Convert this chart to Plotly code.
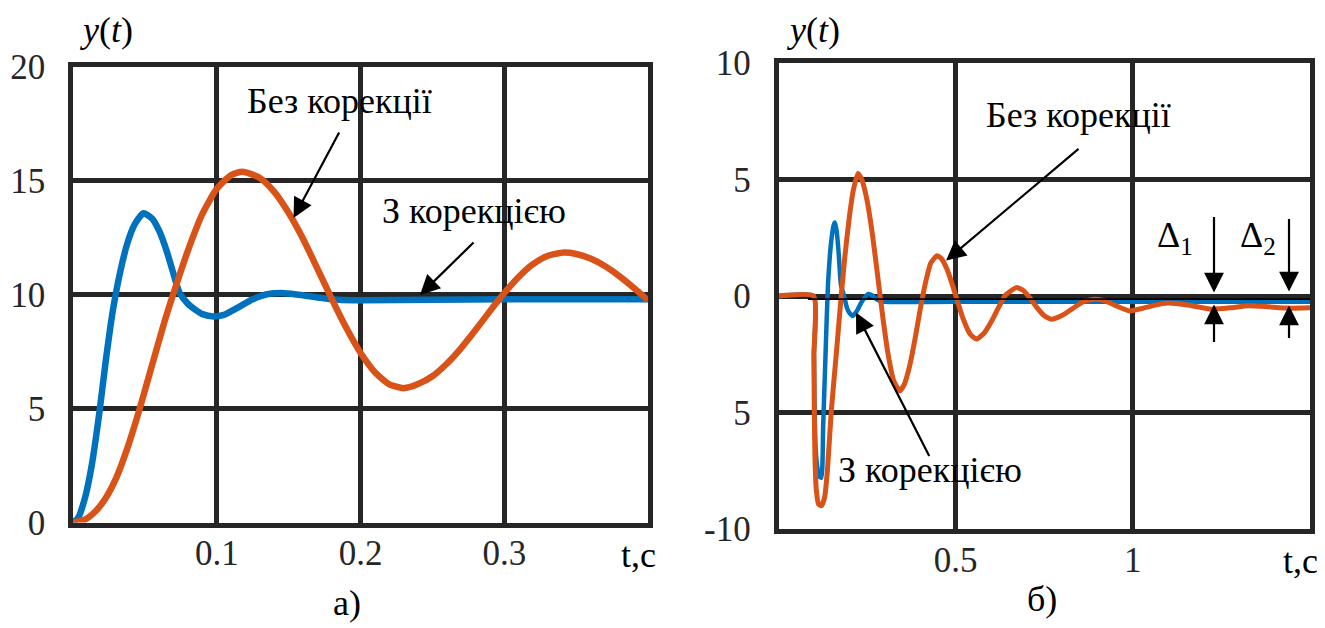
import plotly.graph_objects as go

# ---------------- data: panel a) ----------------
t_a_corr = [0, 0.0035, 0.008, 0.013, 0.0185, 0.023, 0.0277, 0.033, 0.038, 0.043, 0.049,
            0.055, 0.06, 0.065, 0.07, 0.074, 0.08, 0.085, 0.09, 0.098, 0.105, 0.115,
            0.125, 0.135, 0.147, 0.16, 0.17, 0.185, 0.2, 0.25, 0.3, 0.35, 0.4]
y_a_corr = [0, 0.2, 1.0, 2.5, 4.9, 7.2, 9.3, 11.05, 12.3, 13.1, 13.58,
            13.35, 12.8, 11.95, 10.9, 10.1, 9.6, 9.35, 9.15, 9.05, 9.12, 9.45,
            9.8, 10.02, 10.07, 9.98, 9.88, 9.78, 9.76, 9.78, 9.8, 9.8, 9.8]

t_a_nocorr = [0, 0.008, 0.015, 0.022, 0.03, 0.038, 0.0464, 0.0545, 0.0638, 0.0696, 0.08, 0.09,
              0.1, 0.11, 0.118, 0.13, 0.14, 0.15, 0.16, 0.17, 0.18, 0.19, 0.2, 0.21,
              0.22, 0.23, 0.24, 0.25, 0.26, 0.27, 0.28, 0.29, 0.3, 0.31, 0.32, 0.33,
              0.3415, 0.35, 0.36, 0.37, 0.38, 0.39, 0.4]
y_a_nocorr = [0, 0.12, 0.45, 1.0, 1.95, 3.3, 5.0, 6.8, 8.85, 10.0, 11.95, 13.55,
              14.65, 15.25, 15.4, 15.13, 14.52, 13.6, 12.46, 11.15, 9.82, 8.56, 7.45, 6.6,
              6.07, 5.9, 6.08, 6.42, 6.97, 7.66, 8.45, 9.28, 10.07, 10.78, 11.34, 11.7,
              11.85, 11.79, 11.59, 11.26, 10.82, 10.31, 9.76]

# ---------------- data: panel б) ----------------
t_b_corr = [0, 0.099, 0.1, 0.102, 0.105, 0.11, 0.115, 0.121, 0.126, 0.131, 0.136, 0.14,
            0.145, 0.15, 0.155, 0.159, 0.164, 0.17, 0.176, 0.185, 0.193, 0.2, 0.21,
            0.222, 0.235, 0.2526, 0.265, 0.278, 0.295, 0.33, 0.5, 0.8, 1.1, 1.5]
y_b_corr = [0, 0, -2.5, -5.0, -6.6, -7.4, -7.75, -7.8, -5.6, -3.3, -1.0, 0.6,
            1.75, 2.5, 3.0, 3.15, 2.8, 1.8, 0.5, 0.0, -0.5, -0.72, -0.85,
            -0.62, -0.25, 0.08, 0.02, -0.15, -0.24, -0.26, -0.25, -0.25, -0.25, -0.25]

t_b_nocorr = [0, 0.099, 0.1, 0.101, 0.103, 0.107, 0.113, 0.121, 0.13, 0.138, 0.149, 0.163,
              0.177, 0.187, 0.2, 0.212, 0.2244, 0.235, 0.25, 0.265, 0.28, 0.295, 0.31,
              0.325, 0.342, 0.355, 0.37, 0.385, 0.4, 0.415, 0.43, 0.4474, 0.46, 0.475,
              0.49, 0.505, 0.52, 0.54, 0.5583, 0.58, 0.6, 0.62, 0.64, 0.671, 0.69, 0.71,
              0.73, 0.75, 0.77, 0.8, 0.83, 0.86, 0.8925, 0.92, 0.95, 0.991, 1.03, 1.06,
              1.099, 1.16, 1.2216, 1.28, 1.325, 1.38, 1.438, 1.5]
y_b_nocorr = [0, 0, -2.5, -5.0, -7.0, -8.36, -8.94, -9.0, -8.65, -7.5, -4.93, -2.5,
              0, 1.65, 3.4, 4.6, 5.26, 5.0, 4.1, 2.65, 0.85, -0.98, -2.56,
              -3.63, -4.07, -3.79, -3.01, -1.87, -0.57, 0.58, 1.42, 1.73, 1.6, 1.17,
              0.52, -0.22, -0.93, -1.62, -1.85, -1.6, -1.12, -0.52, 0.03, 0.36, 0.25, -0.09,
              -0.51, -0.85, -1.0, -0.84, -0.54, -0.24, -0.14, -0.2, -0.4, -0.64, -0.52, -0.4,
              -0.3, -0.4, -0.57, -0.5, -0.42, -0.46, -0.52, -0.5]

t_b_ref = [0.083, 1.5]
y_b_ref = [-0.13, -0.13]

# tick labels
a_xticks = [0.1, 0.2, 0.3]
a_xticktext = ["0.1", "0.2", "0.3"]
a_yticks = [0, 5, 10, 15, 20]
a_yticktext = ["0", "5", "10", "15", "20"]
b_xticks = [0.5, 1.0]
b_xticktext = ["0.5", "1"]
b_yticks = [-10, -5, 0, 5, 10]
b_yticktext = ["-10", "5", "0", "5", "10"]

BLUE = "#0072BD"
ORANGE = "#D95319"
GRID = "#262626"
FONT = "'Liberation Serif', Tinos, 'Times New Roman', 'DejaVu Serif', serif"
FS = 35

fig = go.Figure()

fig.add_trace(go.Scatter(x=t_a_corr, y=y_a_corr, mode="lines", xaxis="x", yaxis="y",
                         line=dict(color=BLUE, width=6.5, shape="spline", smoothing=0.6),
                         showlegend=False, hoverinfo="skip"))
fig.add_trace(go.Scatter(x=t_a_nocorr, y=y_a_nocorr, mode="lines", xaxis="x", yaxis="y",
                         line=dict(color=ORANGE, width=6.5, shape="spline", smoothing=0.6),
                         showlegend=False, hoverinfo="skip"))
fig.add_trace(go.Scatter(x=t_b_corr, y=y_b_corr, mode="lines", xaxis="x2", yaxis="y2",
                         line=dict(color=BLUE, width=4.5, shape="spline", smoothing=0.5),
                         showlegend=False, hoverinfo="skip"))
fig.add_trace(go.Scatter(x=t_b_nocorr, y=y_b_nocorr, mode="lines", xaxis="x2", yaxis="y2",
                         line=dict(color=ORANGE, width=5, shape="spline", smoothing=0.5),
                         showlegend=False, hoverinfo="skip"))
fig.add_trace(go.Scatter(x=t_b_ref, y=y_b_ref, mode="lines", xaxis="x2", yaxis="y2",
                         line=dict(color="black", width=1.8),
                         showlegend=False, hoverinfo="skip"))

axis_common = dict(showline=True, linewidth=4.5, linecolor=GRID, mirror=True,
                   showgrid=True, gridwidth=4.5, gridcolor=GRID, zeroline=False,
                   ticks="", automargin=False,
                   tickfont=dict(family=FONT, size=FS, color="#262626"),
                   fixedrange=True)

W, H = 1325, 628
fig.update_layout(
    template="none",
    width=W, height=H,
    margin=dict(l=0, r=0, t=0, b=0, autoexpand=False),
    paper_bgcolor="white", plot_bgcolor="white",
    font=dict(family=FONT, size=FS, color="black"),
    showlegend=False,
    xaxis=dict(domain=[65 / W, 640 / W], range=[0, 0.4], tickmode="array",
               tickvals=a_xticks, ticktext=a_xticktext, anchor="y",
               ticklabelstandoff=-4, **axis_common),
    yaxis=dict(domain=[1 - 514.5 / H, 1 - 59 / H], range=[0, 20], tickmode="array",
               tickvals=a_yticks, ticktext=a_yticktext, anchor="x",
               ticklabelstandoff=16, **axis_common),
    xaxis2=dict(domain=[770.5 / W, 1302 / W], range=[0, 1.5], tickmode="array",
                tickvals=b_xticks, ticktext=b_xticktext, anchor="y2",
                ticklabelstandoff=-4, **axis_common),
    yaxis2=dict(domain=[1 - 521 / H, 1 - 55 / H], range=[-10, 10], tickmode="array",
                tickvals=b_yticks, ticktext=b_yticktext, anchor="x2",
                ticklabelstandoff=16, **axis_common),
)

ann = []
TXT = dict(family=FONT, size=FS + 1, color="black")
YS = 10

def label(text, x, y, xref, yref, **kw):
    d = dict(text=text, x=x, y=y, xref=xref, yref=yref, showarrow=False,
             font=TXT, xanchor="center", yanchor="middle", yshift=YS)
    d.update(kw)
    ann.append(d)

def arrow(xt, yt, xh, yh, xref, yref):
    ann.append(dict(text="", x=xh, y=yh, ax=xt, ay=yt, xref=xref, yref=yref,
                    axref=xref, ayref=yref, showarrow=True, arrowhead=2,
                    arrowsize=1.8, arrowwidth=2.2, arrowcolor="black", standoff=0))

# panel a)
label("Без корекції", 0.1854, 18.07, "x", "y")
arrow(0.1857, 17.19, 0.1534, 13.37, "x", "y")
label("З корекцією", 0.279, 13.24, "x", "y")
arrow(0.2797, 12.36, 0.2414, 9.99, "x", "y")

# panel б)
label("Без корекції", 0.848, 7.32, "x2", "y2")
arrow(0.851, 6.37, 0.4728, 1.52, "x2", "y2")
label("З корекцією", 0.4276, -7.88, "x2", "y2")
arrow(0.4276, -6.93, 0.2187, -0.71, "x2", "y2")
label("Δ<sub>1</sub>", 1.1193, 2.08, "x2", "y2")
label("Δ<sub>2</sub>", 1.3536, 2.08, "x2", "y2")
arrow(1.2291, 3.45, 1.2291, 0.15, "x2", "y2")
arrow(1.2291, -2.04, 1.2291, -0.36, "x2", "y2")
arrow(1.4408, 3.37, 1.4408, 0.19, "x2", "y2")
arrow(1.4408, -1.87, 1.4408, -0.41, "x2", "y2")

# axis titles and panel captions (paper coords)
label("<i>y</i>(<i>t</i>)", 98.5 / W, 1.0, "paper", "paper",
      yshift=0, yanchor="top")
label("<i>y</i>(<i>t</i>)", 806 / W, 1.0, "paper", "paper",
      yshift=0, yanchor="top")
label("t,c", 650 / W, 1 - 557 / H, "paper", "paper", xanchor="right")
label("t,c", 1312 / W, 1 - 563 / H, "paper", "paper", xanchor="right")
label("а)", 339 / W, 1 - 605 / H, "paper", "paper")
label("б)", 1034 / W, 1 - 601 / H, "paper", "paper")

fig.update_layout(annotations=ann)

fig.write_html("out.html")
